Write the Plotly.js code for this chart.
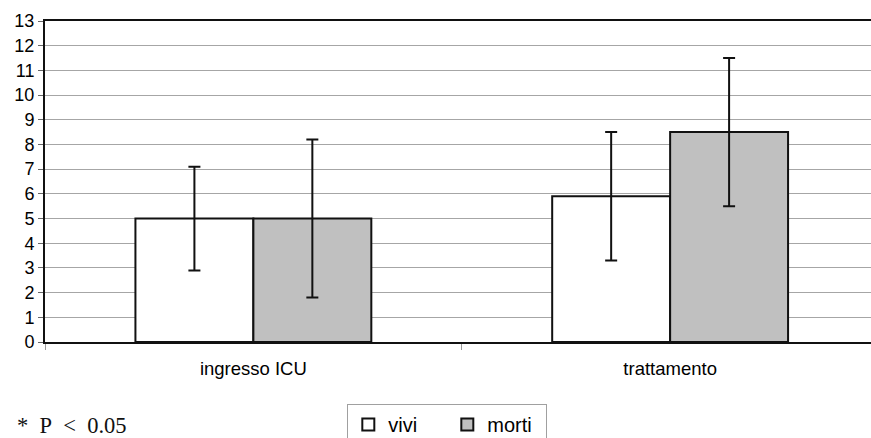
<!DOCTYPE html>
<html>
<head>
<meta charset="utf-8">
<script src="https://cdn.plot.ly/plotly-3.0.1.min.js"></script>
<style>html,body{margin:0;padding:0;background:#fff;overflow:hidden;}#chart{width:871px;height:470px;}</style>
</head>
<body>
<div id="chart"></div>
<script>
var categories = ["ingresso ICU", "trattamento"];
var seriesNames = ["vivi", "morti"];
var viviValues = [5, 5.9];
var viviErrors = [2.1, 2.6];
var mortiValues = [5, 8.5];
var mortiErrors = [3.2, 3.0];
var yTickValues = [0,1,2,3,4,5,6,7,8,9,10,11,12,13];
var noteText = "*\u00a0 P\u00a0 <\u00a0 0.05";

var errStyle = {type: "data", visible: true, color: "#111", thickness: 2, width: 6};

var traces = [
  {type: "bar", name: seriesNames[0], x: categories, y: viviValues,
   error_y: Object.assign({array: viviErrors}, errStyle),
   marker: {color: "#ffffff", line: {color: "#111", width: 2}}},
  {type: "bar", name: seriesNames[1], x: categories, y: mortiValues,
   error_y: Object.assign({array: mortiErrors}, errStyle),
   marker: {color: "#c0c0c0", line: {color: "#111", width: 2}}}
];

var layout = {
  width: 871, height: 470,
  margin: {l: 45, r: 0, t: 21, b: 128, pad: 0},
  paper_bgcolor: "#fff", plot_bgcolor: "#fff",
  font: {family: "Liberation Sans, Arial, sans-serif", size: 18, color: "#000"},
  barmode: "group", bargap: 0.434, bargroupgap: 0,
  showlegend: true,
  xaxis: {type: "category", range: [-0.5, 1.482], showline: true, linecolor: "#111", linewidth: 2,
          mirror: true, ticks: "outside", tickson: "boundaries", ticklen: 6, tickcolor: "#999",
          ticklabelstandoff: 9, automargin: false,
          showgrid: false, zeroline: false, tickfont: {size: 18.5}},
  yaxis: {range: [0, 13], tickvals: yTickValues, showline: true, linecolor: "#111", linewidth: 2,
          ticks: "outside", ticklen: 5, tickcolor: "#666", showgrid: true, gridcolor: "#a6a6a6",
          gridwidth: 1, zeroline: false, tickfont: {size: 18}, fixedrange: true, automargin: false},
  legend: {orientation: "h", x: 0.366, xanchor: "left", y: -0.193, yanchor: "top",
           bordercolor: "#a0a0a0", borderwidth: 1, font: {size: 20},
           entrywidth: 54, entrywidthmode: "pixels", traceorder: "normal"},
  annotations: [{xref: "paper", yref: "paper", x: -0.036, y: -0.259, xanchor: "left", yanchor: "middle",
                 showarrow: false, text: noteText,
                 font: {family: "Liberation Serif, Times New Roman, serif", size: 22.5, color: "#111"}}]
};

Plotly.newPlot("chart", traces, layout, {displayModeBar: false, staticPlot: true});
</script>
</body>
</html>
